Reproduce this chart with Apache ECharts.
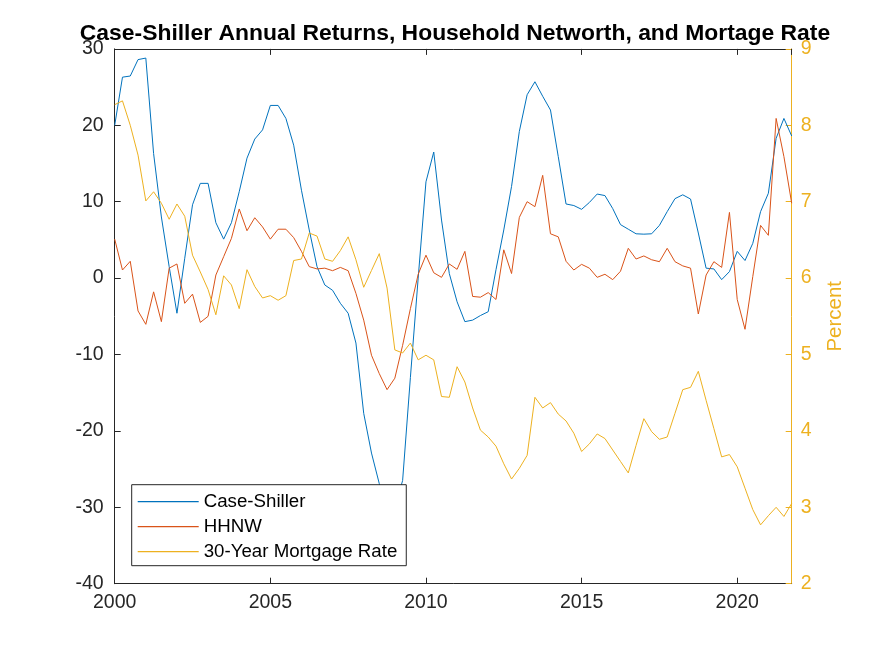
<!DOCTYPE html>
<html>
<head>
<meta charset="utf-8">
<script src="https://cdn.jsdelivr.net/npm/echarts@6/dist/echarts.min.js"></script>
<style>
html,body{margin:0;padding:0;background:#fff;}
#c{width:875px;height:656px;}
</style>
</head>
<body>
<div id="c"></div>
<script>
// Quarterly observations, 2000Q1 .. 2021Q4
var startYear = 2000;
var seriesNames = ['Case-Shiller', 'HHNW', '30-Year Mortgage Rate'];
var caseShiller = [20.0,26.3,26.45,28.6,28.8,16.3,8.0,1.5,-4.6,2.6,
  9.6,12.4,12.4,7.25,5.1,7.25,11.3,15.7,18.2,19.4,
  22.6,22.6,20.9,17.4,11.5,6.3,1.5,-0.9,-1.6,-3.3,
  -4.6,-8.5,-17.7,-22.9,-26.9,-30.5,-30.0,-26.5,-13.0,0.0,
  12.6,16.5,7.6,0.6,-3.1,-5.7,-5.5,-4.9,-4.4,1.1,
  6.3,12.0,19.2,24.0,25.7,23.8,22.0,15.9,9.7,9.5,
  9.0,9.9,11.0,10.8,9.1,7.0,6.4,5.8,5.75,5.8,
  6.9,8.7,10.4,10.9,10.35,5.9,1.3,1.2,-0.2,0.85,
  3.5,2.3,4.55,8.7,11.1,18.3,20.9,18.6];
var hhnw = [5.1,1.06,2.2,-4.3,-6.05,-1.8,-5.7,1.3,1.85,-3.3,
  -2.1,-5.8,-5.0,0.4,2.8,5.2,9.05,6.2,7.9,6.7,
  5.1,6.4,6.4,5.3,3.5,1.5,1.2,1.3,0.97,1.4,
  0.97,-2.0,-5.5,-10.1,-12.5,-14.6,-13.1,-8.8,-4.0,0.5,
  3.0,0.7,0.1,1.85,1.15,3.5,-2.4,-2.5,-1.9,-2.8,
  3.7,0.6,7.95,10.0,9.35,13.45,5.8,5.4,2.2,1.06,
  1.8,1.3,0.1,0.5,-0.2,0.9,3.9,2.5,2.9,2.4,
  2.15,3.9,2.15,1.6,1.3,-4.7,0.4,2.15,1.4,8.6,
  -2.8,-6.7,0.2,6.9,5.6,20.9,15.9,9.8];
var mortgage = [8.27,8.32,8.0,7.61,7.01,7.13,6.98,6.77,6.97,6.81,
  6.30,6.08,5.85,5.52,6.03,5.91,5.60,6.11,5.89,5.74,
  5.77,5.71,5.77,6.23,6.25,6.59,6.55,6.25,6.22,6.36,
  6.54,6.24,5.88,6.10,6.32,5.87,5.06,5.02,5.15,4.93,
  4.99,4.93,4.45,4.44,4.84,4.64,4.30,4.01,3.92,3.80,
  3.57,3.37,3.51,3.68,4.44,4.30,4.37,4.22,4.13,3.97,
  3.73,3.83,3.96,3.90,3.75,3.60,3.45,3.81,4.16,3.99,
  3.89,3.92,4.23,4.54,4.57,4.78,4.40,4.03,3.66,3.69,
  3.53,3.25,2.97,2.77,2.89,3.0,2.88,3.05];

function withTime(vals){
  return vals.map(function(v,i){ return [startYear + i/4, v]; });
}

var FONT = '"Liberation Sans", Arial, Helvetica, sans-serif';
var TXT = '#262626';
var YEL = '#EDB120';

var chart = echarts.init(document.getElementById('c'), null, {renderer:'canvas'});
chart.setOption({
  animation: false,
  backgroundColor: '#fff',
  title: {
    text: 'Case-Shiller Annual Returns, Household Networth, and Mortage Rate',
    left: 450, top: 17, textAlign: 'center',
    textStyle: {fontFamily: FONT, fontSize: 22.9, fontWeight: 'bold', color: '#000'}
  },
  grid: {left: 114.7, right: 83.3, top: 48.9, bottom: 72.3, containLabel: false},
  legend: {
    data: seriesNames,
    orient: 'vertical',
    left: 131.7, top: 484.7,
    backgroundColor: '#fff',
    borderColor: TXT, borderWidth: 1, borderRadius: 0,
    padding: [7, 9, 4, 6],
    icon: 'rect',
    itemWidth: 61, itemHeight: 1.2, itemGap: 5,
    textStyle: {fontFamily: FONT, fontSize: 18.7, color: '#000', lineHeight: 20}
  },
  xAxis: [{
    type: 'value', min: 2000, max: 2021.75, interval: 5,
    axisLine: {onZero: false, lineStyle: {color: TXT, width: 1}},
    axisTick: {inside: true, length: 6, lineStyle: {color: TXT}},
    axisLabel: {color: TXT, fontFamily: FONT, fontSize: 19.5, margin: 9, showMaxLabel: false,
      formatter: function(v){ return String(v); }},
    splitLine: {show: false}
  }, {
    type: 'value', position: 'top', min: 2000, max: 2021.75, interval: 5,
    axisLine: {onZero: false, lineStyle: {color: TXT, width: 1}},
    axisTick: {inside: true, length: 6, lineStyle: {color: TXT}},
    axisLabel: {show: false},
    splitLine: {show: false}
  }],
  yAxis: [{
    type: 'value', position: 'left', min: -40, max: 30, interval: 10,
    axisLine: {show: true, onZero: false, lineStyle: {color: TXT, width: 1}},
    axisTick: {show: true, inside: true, length: 6, lineStyle: {color: TXT}},
    axisLabel: {color: TXT, fontFamily: FONT, fontSize: 19.5, margin: 11},
    splitLine: {show: false}
  }, {
    type: 'value', position: 'right', min: 2, max: 9, interval: 1,
    name: 'Percent', nameLocation: 'middle', nameGap: 33,
    nameTextStyle: {color: YEL, fontFamily: FONT, fontSize: 20.5},
    axisLine: {show: true, onZero: false, lineStyle: {color: YEL, width: 1}},
    axisTick: {show: true, inside: true, length: 6, lineStyle: {color: YEL}},
    axisLabel: {color: YEL, fontFamily: FONT, fontSize: 19.5, margin: 9},
    splitLine: {show: false}
  }],
  series: [{
    name: seriesNames[0], type: 'line', xAxisIndex: 0, yAxisIndex: 0,
    data: withTime(caseShiller), symbol: 'none', color: '#0072BD',
    lineStyle: {width: 1, color: '#0072BD'}
  }, {
    name: seriesNames[1], type: 'line', xAxisIndex: 0, yAxisIndex: 0,
    data: withTime(hhnw), symbol: 'none', color: '#D95319',
    lineStyle: {width: 1, color: '#D95319'}
  }, {
    name: seriesNames[2], type: 'line', xAxisIndex: 0, yAxisIndex: 1,
    data: withTime(mortgage), symbol: 'none', color: YEL,
    lineStyle: {width: 1, color: YEL}
  }]
});
</script>
</body>
</html>
